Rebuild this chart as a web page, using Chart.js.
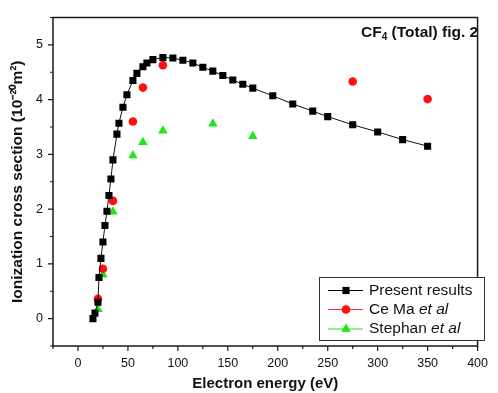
<!DOCTYPE html>
<html><head><meta charset="utf-8">
<script src="https://cdn.jsdelivr.net/npm/chart.js@4.4.0/dist/chart.umd.min.js"></script>
<style>html,body{margin:0;padding:0;background:#fff}#wrap{width:498px;height:393px}</style>
</head><body><div id="wrap"><canvas id="c" width="498" height="393"></canvas></div>
<script>
const presentX = [15,17,20,21,23,25,27,29,31,33,35,39,41,45,49,55,59,65,69,75,85,95,105,115,125,135,145,155,165,175,195,215,235,250,275,300,325,350];
const presentY = [0.0,0.1,0.3,0.75,1.1,1.4,1.7,1.96,2.25,2.55,2.9,3.37,3.57,3.86,4.09,4.35,4.48,4.6,4.67,4.73,4.77,4.76,4.72,4.67,4.59,4.52,4.44,4.36,4.28,4.21,4.07,3.92,3.79,3.69,3.54,3.41,3.27,3.15];
const ceMaX = [20,25,35,55,65,85,275,350];
const ceMaY = [0.36,0.91,2.15,3.6,4.22,4.63,4.33,4.01];
const stephanX = [20,25,35,55,65,85,135,175];
const stephanY = [0.17,0.8,1.95,2.98,3.22,3.43,3.56,3.33];
const xMajorTicks = [0,50,100,150,200,250,300,350,400];
const xMinorTicks = [-25,25,75,125,175,225,275,325,375];
const yMajorTicks = [0,1,2,3,4,5];
const yMinorTicks = [-0.5,0.5,1.5,2.5,3.5,4.5,5.5];
const seriesNames = ['Present results','Ce Ma','Stephan'];

const pts = (xs, ys) => xs.map((x, i) => ({x, y: ys[i]}));
const FAM = '"Liberation Sans", Arial, sans-serif';

const extras = {
  id: 'extras',
  afterDraw(chart) {
    const ctx = chart.ctx, a = chart.chartArea;
    const xs = chart.scales.x, ys = chart.scales.y;
    ctx.save();
    // frame
    ctx.strokeStyle = '#1a1a1a';
    ctx.lineWidth = 1.5;
    ctx.strokeRect(a.left, a.top, a.right - a.left, a.bottom - a.top);
    // ticks
    ctx.lineWidth = 1.2;
    ctx.beginPath();
    xMajorTicks.forEach(v => { const p = xs.getPixelForValue(v); ctx.moveTo(p, a.bottom); ctx.lineTo(p, a.bottom + 5); });
    xMinorTicks.forEach(v => { const p = xs.getPixelForValue(v); ctx.moveTo(p, a.bottom); ctx.lineTo(p, a.bottom + 3); });
    yMajorTicks.forEach(v => { const p = ys.getPixelForValue(v); ctx.moveTo(a.left, p); ctx.lineTo(a.left - 5, p); });
    yMinorTicks.forEach(v => { const p = ys.getPixelForValue(v); ctx.moveTo(a.left, p); ctx.lineTo(a.left - 3, p); });
    ctx.stroke();
    // annotation
    ctx.fillStyle = '#111';
    ctx.textBaseline = 'alphabetic';
    ctx.textAlign = 'left';
    let x0 = 361, yb = 37;
    ctx.font = 'bold 15.5px ' + FAM;
    ctx.fillText('CF', x0, yb);
    x0 += ctx.measureText('CF').width;
    ctx.font = 'bold 10px ' + FAM;
    ctx.fillText('4', x0, yb + 3);
    x0 += ctx.measureText('4').width;
    ctx.font = 'bold 15.5px ' + FAM;
    ctx.fillText(' (Total) fig. 2', x0, yb);
    // legend
    const lx = 319, ly = 277, lw = 165, lh = 63;
    ctx.fillStyle = '#fff';
    ctx.fillRect(lx, ly, lw, lh);
    ctx.strokeStyle = '#333';
    ctx.lineWidth = 1;
    ctx.strokeRect(lx + 0.5, ly + 0.5, lw, lh);
    const rows = [290.5, 309.5, 329];
    chart.data.datasets.forEach((ds, i) => {
      const yy = rows[i];
      ctx.strokeStyle = ds.legendLine;
      ctx.lineWidth = 1;
      ctx.beginPath(); ctx.moveTo(328, yy); ctx.lineTo(363, yy); ctx.stroke();
      ctx.fillStyle = ds.pointBackgroundColor;
      ctx.strokeStyle = ds.pointBackgroundColor;
      ctx.lineWidth = 0.1;
      Chart.helpers.drawPoint(ctx, {pointStyle: ds.pointStyle, radius: ds.pointRadius, rotation: 0, borderWidth: 0.1}, 346, yy);
      ctx.fillStyle = '#111';
      ctx.textBaseline = 'middle';
      ctx.textAlign = 'left';
      let tx = 369;
      ctx.font = '15.5px ' + FAM;
      if (i === 0) { ctx.fillText(seriesNames[0], tx, yy); }
      else {
        const t = seriesNames[i] + ' ';
        ctx.fillText(t, tx, yy);
        tx += ctx.measureText(t).width;
        ctx.font = 'italic 15.5px ' + FAM;
        ctx.fillText('et al', tx, yy);
      }
    });
    ctx.restore();
  }
};

new Chart(document.getElementById('c'), {
  type: 'line',
  data: {
    datasets: [
      {label: seriesNames[0], data: pts(presentX, presentY), borderColor: '#111', borderWidth: 1, showLine: true,
       pointStyle: 'rect', pointRadius: 5, pointBackgroundColor: '#000', pointBorderColor: '#000', pointBorderWidth: 0, legendLine: '#000', tension: 0},
      {label: seriesNames[1], data: pts(ceMaX, ceMaY), showLine: false,
       pointStyle: 'circle', pointRadius: 4.3, pointBackgroundColor: '#ff1010', pointBorderColor: '#ff1010', pointBorderWidth: 0, legendLine: '#ff3030'},
      {label: seriesNames[2], data: pts(stephanX, stephanY), showLine: false,
       pointStyle: 'triangle', pointRadius: 5.5, pointBackgroundColor: '#1ee61a', pointBorderColor: '#1ee61a', pointBorderWidth: 0, legendLine: '#22e01e'}
    ]
  },
  options: {
    responsive: false,
    animation: false,
    layout: {padding: {left: 0, right: 11, top: 11, bottom: 0}},
    plugins: {legend: {display: false}, tooltip: {enabled: false}},
    scales: {
      x: {
        type: 'linear', min: -25, max: 400,
        afterBuildTicks: s => { s.ticks = xMajorTicks.map(v => ({value: v})); },
        afterFit: s => { s.height = 47; },
        grid: {display: false, drawTicks: false, tickLength: 0},
        border: {display: false},
        ticks: {padding: 10, color: '#111', font: {family: FAM, size: 12.5}, maxRotation: 0, autoSkip: false},
        title: {display: true, text: 'Electron energy (eV)', color: '#111', font: {family: FAM, size: 15, weight: 'bold'}, padding: {top: 0, bottom: 0}}
      },
      y: {
        type: 'linear', min: -0.5, max: 5.5,
        afterBuildTicks: s => { s.ticks = yMajorTicks.map(v => ({value: v})); },
        afterFit: s => { s.width = 53; },
        grid: {display: false, drawTicks: false, tickLength: 0},
        border: {display: false},
        ticks: {padding: 10, color: '#111', font: {family: FAM, size: 12.5}},
        title: {display: true, text: 'Ionization cross section (10\u207B\u00B2\u2070m\u00B2)', color: '#111', font: {family: FAM, size: 15.5, weight: 'bold'}, padding: {top: 8, bottom: 0}}
      }
    }
  },
  plugins: [extras]
});
</script></body></html>
